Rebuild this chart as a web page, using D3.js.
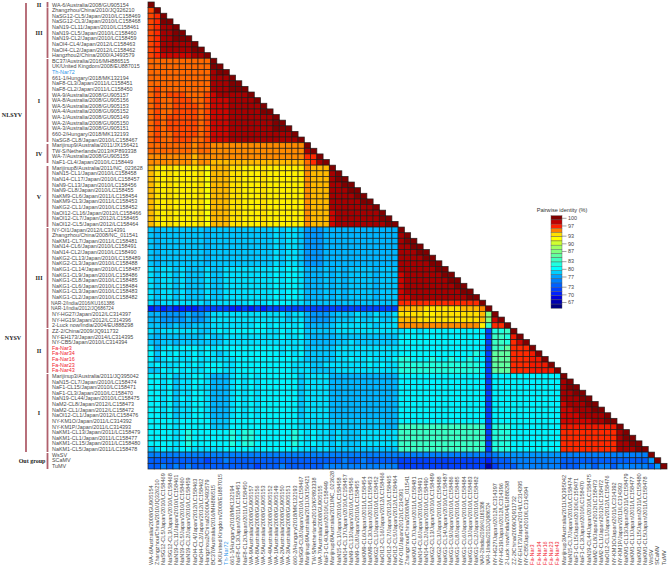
<!DOCTYPE html>
<html><head><meta charset="utf-8">
<script src="https://cdn.jsdelivr.net/npm/d3@7"></script>
<style>html,body{margin:0;padding:0;background:#fff}svg{display:block}</style>
</head><body><svg id="c" width="669" height="566"></svg>
<script>
const isolates = ["WA-6/Australia/2008/GU905154","Zhangzhou/China/2010/JQ326210","NaSG12-CL5/Japan/2010/LC158469","NaSG12-CL3/Japan/2010/LC158468","NaN19-CL11/Japan/2010/LC158461","NaN19-CL5/Japan/2010/LC158460","NaN19-CL2/Japan/2010/LC158459","NaOI4-CL4/Japan/2012/LC158463","NaOI4-CL2/Japan/2012/LC158462","Hangzhou2/China/2000/AJ493579",
"BC37/Australia/2016/MH886515","UK/United Kingdom/2008/EU887015","Th-Nar72","661-1/Hungary/2018/MK132194","NaF8-CL3/Japan/2011/LC158451","NaF8-CL2/Japan/2011/LC158450","WA-9/Australia/2008/GU905157","WA-8/Australia/2008/GU905156","WA-5/Australia/2008/GU905153","WA-4/Australia/2008/GU905152","WA-1/Australia/2008/GU905149","WA-2/Australia/2008/GU905150","WA-3/Australia/2008/GU905151","660-2/Hungary/2018/MK132193","NaSG8-CL8/Japan/2010/LC158467",
"Marijinup9/Australia/2011/JX156421","TW-S/Netherlands/2013/KP893338","WA-7/Australia/2008/GU905155","NaF1-CL4/Japan/2010/LC158449",
"Marijinup8/Australia/2011/NC_023628","NaN15-CL1/Japan/2010/LC158458","NaN14-CL17/Japan/2010/LC158457","NaN9-CL13/Japan/2010/LC158456","NaN9-CL8/Japan/2010/LC158455","NaKM9-CL6/Japan/2011/LC158454","NaKM9-CL3/Japan/2011/LC158453","NaKG2-CL1/Japan/2010/LC158452","NaOI12-CL16/Japan/2012/LC158466","NaOI12-CL7/Japan/2012/LC158465","NaOI12-CL5/Japan/2012/LC158464",
"NY-OI1/Japan/2012/LC314391","Zhangzhou/China/2008/NC_011541","NaKM1-CL7/Japan/2011/LC158481","NaN14-CL6/Japan/2010/LC158491","NaN14-CL2/Japan/2010/LC158490","NaKG2-CL13/Japan/2010/LC158489","NaKG2-CL3/Japan/2010/LC158488","NaKG1-CL14/Japan/2010/LC158487","NaKG1-CL9/Japan/2010/LC158486","NaKG1-CL8/Japan/2010/LC158485","NaKG1-CL6/Japan/2010/LC158484","NaKG1-CL3/Japan/2010/LC158483","NaKG1-CL2/Japan/2010/LC158482","NAR-2/India/2016/KU161386","NAR-1/India/2012/JQ686724","NY-HG27/Japan/2012/LC314397","NY-HG19/Japan/2012/LC314396","2-Luck now/India/2004/EU888298",
"ZZ-2/China/2009/JQ911732","NY-EH173/Japan/2014/LC314395","NY-CB5/Japan/2010/LC314394","Fa-Nar3","Fa-Nar34","Fa-Nar16","Fa-Nar23","Fa-Nar43",
"Marijinup3/Australia/2011/JQ395042","NaN15-CL7/Japan/2010/LC158474","NaF1-CL15/Japan/2010/LC158471","NaF1-CL3/Japan/2010/LC158470","NaN19-CL44/Japan/2010/LC158475","NaM2-CL8/Japan/2012/LC158473","NaM2-CL1/Japan/2012/LC158472","NaOI12-CL1/Japan/2012/LC158476","NY-KM1O/Japan/2011/LC314392","NY-KM1P/Japan/2011/LC314393","NaKM1-CL13/Japan/2011/LC158479","NaKM1-CL1/Japan/2011/LC158477","NaKM1-CL15/Japan/2011/LC158480","NaKM1-CL5/Japan/2011/LC158478","WsSV","SCaMV","TuMV"];

// identity (%) denoted by each letter of the matrix rows
const identityCodes = {a:100,b:99,c:98,d:97,e:96.5,f:96,g:95.4,h:94.8,i:94,j:93.3,k:92.5,l:91.5,m:90.5,n:87,o:85,p:83,q:81.7,r:79.6,s:78.9,t:78,u:77.4,v:76.2,w:75,x:73.3,y:71.7,z:70,"0":68.3,"1":66.7};

// lower triangle, read row by row; spaces only separate the clades
const identityRows = [
"a",
"f a",
"f e a",
"f e aa",
"f e bba",
"f e bbaa",
"f e bbaaa",
"f e bbbbba",
"f e bbbbbaa",
"f e cccccbba",
"gggggggggg a",
"gggggggggg aa",
"gggggggggg baa",
"gggggggggg bbba",
"gggggggggg bbbaa",
"gfgggggggg bbbaaa",
"gfgfffgggf cbbbbba",
"gfggfffggf cccbbbba",
"gfggffffgf cccbbbbba",
"gfggffffgf cccbbbbbaa",
"gfgfffffgf cccbbbbbbba",
"gfgfffffgf cccbbbbbbbaa",
"gfgfffffgf cccbbbbbbbaaa",
"gfggffffgf cccbbbbbbbbbba",
"gfggfffggf cccbbbbbbbbbbba",
"ggggggghgg hhhhhhhhhhhhhhh a",
"ggggggghgg hhhhhhhhhhhhhhh ba",
"hhhhhhhihh hhhhhhhhhhhhhhh eea",
"hhhhhhhihh iiiiiiiiiiiiiii geba",
"ijkjkkkkjl iiijjkkkjkkkkkk hiii a",
"ijkjkkkkjl iiijjkkkjkkkkkk hiii ba",
"ijkjkkkkjl iiijjkkkjkkkkkk hiii baa",
"ijkjkkkkjl iiijjkkkjkkkkkk hiii bbaa",
"ijkjkkkkjl iiijjkkkjkkkkkk hiii bbbaa",
"ijkjkkkkjl iiijjkkkjkkkkkk hiii bbbbaa",
"ijkjkkkkjl iiijjkkkjkkkkkk hiii bbbbbaa",
"ijkjkkkkjl iiijjkkkjkkkkkk hiii bbbbbbba",
"ijkjkkkkjl iiijjkkkjkkkkkk hiii cbbbbbbba",
"ijkjkkkkjl iiijjkkkjkkkkkk hiii cbbbbbbbaa",
"ijkjkkkkjl iiijjkkkjkkkkkk hiii cbbbbbbbbaa",
"tutttttttu ttttttttttstsst vvvu uuuuuuuuuuu a",
"tutttttttu ttttttttttstsst vvvu uuuuuuuuuuu ba",
"tutttttttu ttttttttttstsst vvvu uuuuuuuuuuu baa",
"tutttttttu ttttttttttstsst vvvu uuuuuuuuuuu bbaa",
"tutttttttu ttttttttttstsst vvvu uuuuuuuuuuu bbbaa",
"tutttttttu ttttttttttstsst vvvu uuuuuuuuuuu bbbbaa",
"tutttttttu ttttttttttstsst vvvu uuuuuuuuuuu bbbbbaa",
"stsststtts ttssssssssrsrrs uuut ututtttuttt bbbbbbaa",
"stsststtts ttssssssssrsrrs uuut ututtttuttt cbbbbbbaa",
"stsststtts ttssssssssrsrrs uuut ututtttuttt cbbbbbbbaa",
"stsststtts ttssssssssrsrrs uuut ututtttuttt cbbbbbbbbaa",
"stsststtts ttssssssssrsrrs uuut ututtttuttt cbbbbbbbbbaa",
"stsststtts ttssssssssrsrrs uuut ututtttuttt ccbbbbbbbbbaa",
"stssssssst ssssssrssrrrrss tttt ttttttttttt eeeeeeeeeeeee a",
"zyzyzzzzyy yyyzzyzyzyyyyyy yyyy yyyyyyyyyyy iiiijjjjjjiii h a",
"uuvvvvuvvu sssssssssssstss uvvv utttsttstts jjjjkkjjjjjjj i n a",
"uuvvvvuvvu sssssssssssstss uvvv utttsttstts iiijjjjjjjjjj i n c a",
"ttuutuuttt sssssssrrsrsrsr uuuu tsssssstsss hhhhhhhhhhhhh k p ee a",
"stsssssstt srsrrrrrrssrsrr tttt tssssssssss srrsrrrrrrrrr r y qqp a",
"tuttttttts ttsssssssssrssr tuuu utttttttttt rrrrrrrrrrrrr r y ppq d a",
"tuttuttttt ttsssssssssssss tuuu uttsttttttt rrrrrrrrrrrrr r y ppq ec a",
"rusrsrrrsr srrrrrrrrrrsrsr tttt tssssssssss rrrrrrrrrrrrr s y ppo eee a",
"rtrsrssrsr stsrrrrrrrrsrsr tttt tssssssssss rrrrrrrrrrrrq s y ooo eee da",
"rusrsssrss ssssrrrrrrrrrrs tttt tssrssrsssr qqrrrqrrqrrqr r y ooo eee dda",
"srsssrsrsr rrssrrrrrrrrrss stts ssssssrsrss qqqqqqqqqqqqq r y ooo eee ddda",
"ttrsrsrssr rrssrrrrrrrrrss sttt tssssssssss qqqqqqqqqqqqq r y ooo eee dddda",
"rrsrtssrrs uuusrsrsrrrrrrt ssss uuuuuuuuuuu rrrrrrrrrrrrr r y rrr rrr rrrrr a",
"rrsrtssrrs uuusrsrsrrrrrrt ssss uuuuuuuuuuu rrrrrrrrrrrrr r y rrr rrr rrrrr ba",
"rrsrtssrss uuusrsrsrrrrrrt ssss uuuuuuuuuuu rrrrrrrrrrrrr r y rrr rrr rrrrr baa",
"rrsrtssrrs uuusrsrsrrrrrrt ssss uuuuuuuuuuu rrrrrrrrrrrrr r y rrr rrr rrrrr bbaa",
"rrsrtrsrrs uuusrsrsrrrrrrt ssss uuuuuuuuuuu rrrrrrrrrrrrr r y rrr rrr rrrrr bbbaa",
"rrsrtssrrs uuusrsrsrrrrrrt ssss uuuuuuuuuuu rrrrrrrrrrrrr r y rrr rrr rrrrr cbbbaa",
"rrsrtssrrs uuusrsrsrrrrrrt ssss uuuuuuuuuuu rrrrrrrrrrrrr r y rrr rrr rrrrr ccbbbaa",
"rrsrtssrrs uuusrsrsrrrrrrt ssss uuuuuuuuuuu rrrrrrrrrrrrr r y rrr rrr rrrrr cccbbbba",
"rrrrsrrrrr tttrrrrrrrrrrrs ssss tttttttttuu rrrrrrrrrrrrr r y rrr rrr rrrrr cccccbbaa",
"rrrrsrrrrr tttrrrrrrrrrrrs ssss tttttttttuu ppppppppppppp p y qqq rrr rrrrr ddddddddd a",
"rrrrsrqrrr rrrqrqqrrrrrrqr srss tstttssssss ppppppppppppp p y qqq rrr rrrrr eeeeeeeee ba",
"rrrrsrqrrr rrrqrqqrrrrrrqr srss tstttssssss ppppppppppppp p y qqq rrr rrrrr eeeeeeeee baa",
"rrrrsrqrrr rrrqrqqrrrrrrqr srss tstttssssss ppppppppppppp p y qqq rrr rrrrr eeeeeeeee bbaa",
"tsrssrrsss ssrrrrrsrrrrrrs stss ttttttttttt ppppppppppppp p y qqq rrr rrrrr eeeeeeeee bbbaa",
"wwwwwwwwww wwwwwwwwwwwwwww wwww wwwwwwwwwww wwwwwwwwwwwww w x wvv vvv vvvvv wwwwwwwwwwwwww a",
"xxxxxxxxxy xxwxxxxxxxxxxxx xxxx xxwxxwxxxxx yyyyyyyyyyyyy y z xxx www wwwww xxxxxxxxxxxxxx v a",
"xxwxwxwxxx xxxxxxxyxxxwxxx xxxw wwwwwwwwwww yyyyyyyyyyyyy y 1 yxx xww wwwww xxxwwxwwxwwwww x v a"
];

const legendTicks = [100,97,93,90,87,83,80,77,73,70,67];
const colorStops = [[100,"#800000"],[98.33,"#c00000"],[96.67,"#ff2000"],[95,"#ff8000"],[93.33,"#ffe000"],[91.67,"#ffff00"],[90,"#d0ff30"],[88.33,"#a0ff60"],[86.67,"#80ff80"],[85,"#60ffa0"],[83.33,"#40ffc0"],[81.67,"#20ffe0"],[80,"#00ffff"],[78.33,"#00d0ff"],[76.67,"#00a0ff"],[75,"#0080ff"],[73.33,"#0060ff"],[71.67,"#0040ff"],[70,"#0020ff"],[68.33,"#0000e0"],[66.67,"#0000b0"],[65,"#000080"]];

const cladeGroups = [
 {label:"II",y0:2,y1:7.5},
 {label:"III",y0:8,y1:58},
 {label:"I",y0:59,y1:142},
 {label:"IV",y0:144,y1:163},
 {label:"V",y0:166,y1:227},
 {label:"III",y0:228,y1:328},
 {label:"II",y0:329,y1:373},
 {label:"I",y0:374,y1:452},
 {label:"Out group",y0:453,y1:469}
];
const speciesGroups = [{label:"NLSYV",y0:3,y1:227,ly:117},{label:"NYSV",y0:227,y1:452,ly:340}];
const redIsolates = ["Fa-Nar3","Fa-Nar34","Fa-Nar16","Fa-Nar23","Fa-Nar43"];
const blueIsolates = ["Th-Nar72"];

const svg = d3.select("#c");
const sans = "'Liberation Sans',Arial,sans-serif", serif = "'Liberation Serif','Times New Roman',serif";
const xScale = d3.scaleBand().domain(isolates).range([148,667]);
const yScale = d3.scaleBand().domain(isolates).range([2,469]);
const color = d3.scaleLinear().domain(colorStops.map(d=>d[0])).range(colorStops.map(d=>d[1])).clamp(true);

const cells = [];
identityRows.forEach((row,r)=>{
  Array.from(row.replace(/ /g,"")).forEach((ch,c)=>{
    cells.push({row:isolates[r],col:isolates[c],v:identityCodes[ch]});
  });
});
svg.append("g").selectAll("rect").data(cells).join("rect")
  .attr("x",d=>xScale(d.col)).attr("y",d=>yScale(d.row))
  .attr("width",xScale.bandwidth()).attr("height",yScale.bandwidth())
  .attr("fill",d=>color(d.v)).attr("stroke","#1a1a1a").attr("stroke-opacity",.85).attr("stroke-width",.8);

const labelColor = d=>redIsolates.includes(d)?"#f0202c":blueIsolates.includes(d)?"#2f95e8":"#4a4a4a";

const rowAxis = svg.append("g").attr("transform","translate(52,0)")
  .call(d3.axisLeft(yScale).tickSize(0).tickPadding(0));
rowAxis.select(".domain").remove();
rowAxis.selectAll("text").attr("x",d=>d.startsWith("NAR-")?-1:0).attr("text-anchor","start")
  .style("font-family",sans).style("font-size",d=>(d.startsWith("NAR-")?4.9:5.4)+"px").attr("fill",labelColor);

const colAxis = svg.append("g").attr("transform","translate(0,565)")
  .call(d3.axisBottom(xScale).tickSize(0).tickPadding(0));
colAxis.select(".domain").remove();
colAxis.selectAll("text").attr("transform","rotate(-90)").attr("x",0).attr("y",0).attr("dy","0.32em")
  .attr("text-anchor","start").style("font-family",sans)
  .style("font-size",d=>(d.startsWith("NAR-")?4.9:5.6)+"px").attr("fill",labelColor);

const bracketColor = "#b0606c";
svg.append("g").selectAll("line").data(speciesGroups).join("line")
  .attr("x1",26).attr("x2",26).attr("y1",d=>d.y0).attr("y2",d=>d.y1)
  .attr("stroke",bracketColor).attr("stroke-width",1.8);
svg.append("g").selectAll("text").data(speciesGroups).join("text")
  .attr("x",d=>d.label==="NYSV"?13:12).attr("y",d=>d.ly).attr("text-anchor","middle")
  .attr("font-family",serif).attr("font-weight","bold").attr("font-size",6).attr("fill","#222").text(d=>d.label);
const clades = svg.append("g");
clades.selectAll("line").data(cladeGroups).join("line")
  .attr("x1",47.5).attr("x2",47.5).attr("y1",d=>d.y0).attr("y2",d=>d.y1)
  .attr("stroke",bracketColor).attr("stroke-width",1.8);
clades.selectAll("text").data(cladeGroups).join("text")
  .attr("x",d=>d.label==="Out group"?32:39).attr("y",d=>(d.y0+d.y1)/2+2).attr("text-anchor","middle")
  .attr("font-family",serif).attr("font-weight","bold").attr("font-size",6).attr("fill","#222").text(d=>d.label);

// legend
const legendBands = colorStops.map(d=>d[0]);
const legendY = d3.scaleBand().domain(legendBands).range([215.7,308.3]);
const legend = svg.append("g");
legend.selectAll("rect").data(legendBands).join("rect")
  .attr("x",551).attr("width",11).attr("y",d=>legendY(d)).attr("height",legendY.bandwidth())
  .attr("fill",d=>color(d)).attr("stroke","#555").attr("stroke-width",.4);
const legendAxisScale = d3.scaleLinear().domain([100,67]).range([217.8,302]);
const legendAxis = legend.append("g").attr("transform","translate(562,0)")
  .call(d3.axisRight(legendAxisScale).tickValues(legendTicks).tickSize(4.5).tickPadding(1.5));
legendAxis.select(".domain").remove();
legendAxis.selectAll("line").attr("stroke","#666").attr("stroke-width",.6);
legendAxis.selectAll("text").style("font-family",sans).style("font-size","5.4px").attr("fill","#444");
legend.append("text").attr("x",562).attr("y",212).attr("text-anchor","middle")
  .attr("font-family",sans).attr("font-size",5.6).attr("fill","#333").text("Pairwise identity (%)");
</script></body></html>
